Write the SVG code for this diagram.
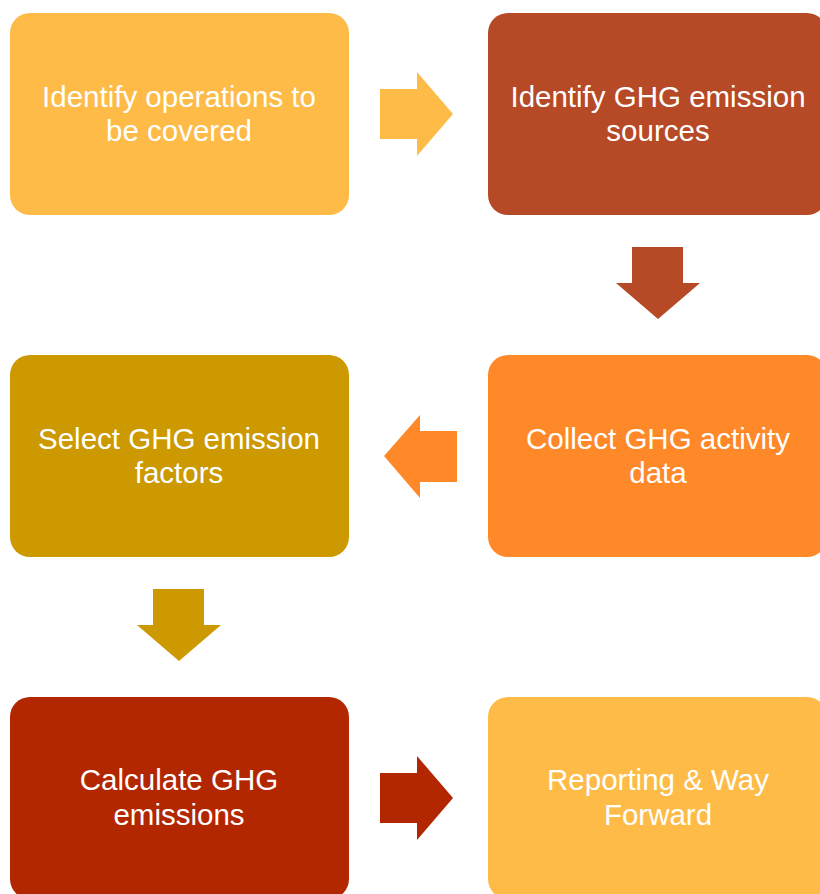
<svg xmlns="http://www.w3.org/2000/svg" width="820" height="894" viewBox="0 0 820 894">
<style>
.lbl{font-family:"Liberation Sans",Arial,sans-serif;font-size:29.5px;fill:#ffffff;text-anchor:middle}
</style>
<rect width="820" height="894" fill="#ffffff"/>
<g id="connectors">
<path d="M380 89H417V72L453 114L417 156V139H380Z" fill="#FEBB47"/>
<path d="M632 247H683V283H700L658 319L616 283H632Z" fill="#B64926"/>
<path d="M457 431H420V415L384 456L420 498V482H457Z" fill="#FF8829"/>
<path d="M153 589H204V625H221L179 661L137 625H153Z" fill="#CC9900"/>
<path d="M380 773H417V756L453 798L417 840V823H380Z" fill="#B22600"/>
</g>
<g id="n1"><rect x="10" y="13" width="339" height="202" rx="20" fill="#FEBB47"/>
<text class="lbl" x="179" y="107">Identify operations to</text><text class="lbl" x="179" y="141">be covered</text></g>
<g id="n2"><rect x="488" y="13" width="339" height="202" rx="20" fill="#B64926"/>
<text class="lbl" x="658" y="107">Identify GHG emission</text><text class="lbl" x="658" y="141">sources</text></g>
<g id="n3"><rect x="488" y="355" width="339" height="202" rx="20" fill="#FF8829"/>
<text class="lbl" x="658" y="449">Collect GHG activity</text><text class="lbl" x="658" y="483">data</text></g>
<g id="n4"><rect x="10" y="355" width="339" height="202" rx="20" fill="#CC9900"/>
<text class="lbl" x="179" y="449">Select GHG emission</text><text class="lbl" x="179" y="483">factors</text></g>
<g id="n5"><rect x="10" y="697" width="339" height="202" rx="20" fill="#B22600"/>
<text class="lbl" x="179" y="790">Calculate GHG</text><text class="lbl" x="179" y="825">emissions</text></g>
<g id="n6"><rect x="488" y="697" width="339" height="202" rx="20" fill="#FEBB47"/>
<text class="lbl" x="658" y="790">Reporting &amp; Way</text><text class="lbl" x="658" y="825">Forward</text></g>
</svg>
